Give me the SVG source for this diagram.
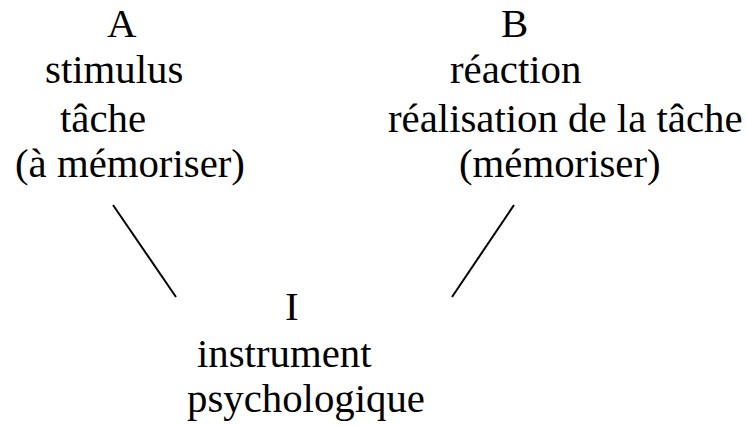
<svg xmlns="http://www.w3.org/2000/svg" width="747" height="425" viewBox="0 0 747 425">
<style>
text{font-family:"Liberation Serif","Times New Roman",serif;font-size:40.8px;fill:#000}
.c{stroke:#000;stroke-width:2;fill:none}
</style>
<rect width="747" height="425" fill="#fff"/>
<g id="nodeA">
<text x="107" y="37">A</text>
<text x="45" y="83">stimulus</text>
<text x="60" y="132">tâche</text>
<text x="15" y="177">(à mémoriser)</text>
</g>
<g id="nodeB">
<text x="501" y="37">B</text>
<text x="450" y="83">réaction</text>
<text x="388" y="132">réalisation de la tâche</text>
<text x="459" y="177">(mémoriser)</text>
</g>
<g id="nodeI">
<text x="285" y="320">I</text>
<text x="197" y="367">instrument</text>
<text x="187" y="412">psychologique</text>
</g>
<g id="connectors">
<line class="c" x1="113" y1="205" x2="176" y2="297"/>
<line class="c" x1="514" y1="205" x2="452" y2="297"/>
</g>
</svg>
